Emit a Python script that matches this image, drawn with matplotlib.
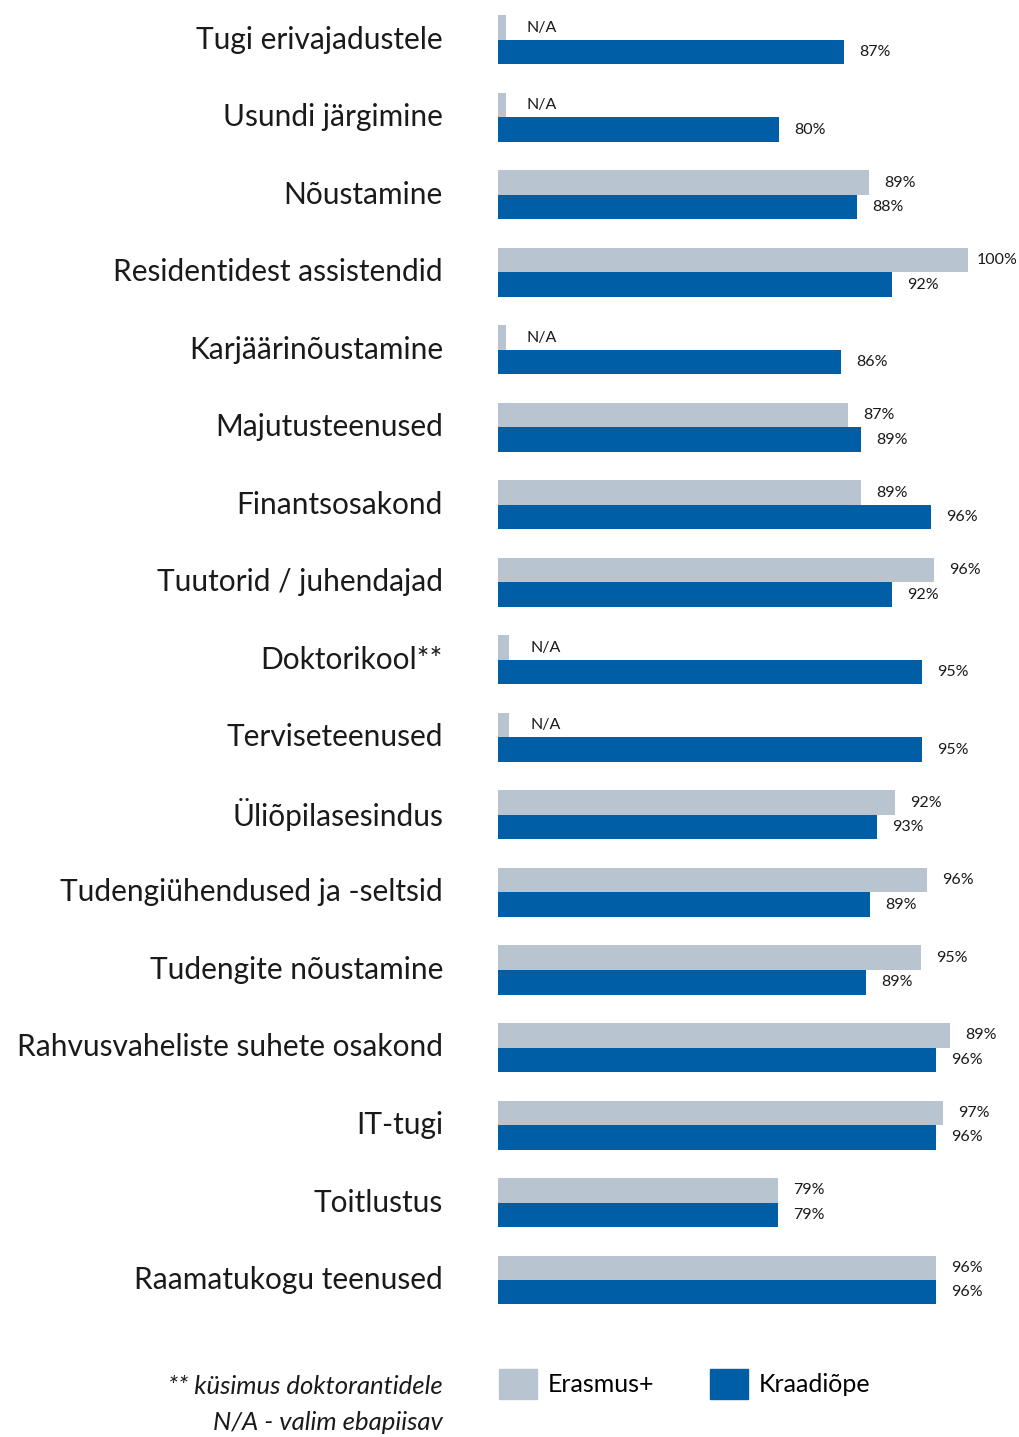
import matplotlib
matplotlib.use('Agg')
import matplotlib.pyplot as plt
import matplotlib.transforms as mtransforms
from matplotlib.patches import Patch
import numpy as np

plt.rcParams['font.family'] = ['Lato', 'DejaVu Sans']

categories = [
    "Tugi erivajadustele", "Usundi järgimine", "Nõustamine",
    "Residentidest assistendid", "Karjäärinõustamine", "Majutusteenused",
    "Finantsosakond", "Tuutorid / juhendajad", "Doktorikool**",
    "Terviseteenused", "Üliõpilasesindus", "Tudengiühendused ja -seltsid",
    "Tudengite nõustamine", "Rahvusvaheliste suhete osakond", "IT-tugi",
    "Toitlustus", "Raamatukogu teenused",
]

# printed values
erasmus_labels = ['N/A', 'N/A', '89%', '100%', 'N/A', '87%', '89%', '96%', 'N/A',
                  'N/A', '92%', '96%', '95%', '89%', '97%', '79%', '96%']
kraadi_labels = ['87%', '80%', '88%', '92%', '86%', '89%', '96%', '92%', '95%',
                 '95%', '93%', '89%', '89%', '96%', '96%', '79%', '96%']

# bar lengths as drawn in the picture (axis starts at 50)
erasmus_bar = [50.85, 50.85, 89.5, 100.0, 50.85, 87.2, 88.6, 96.4, 51.2,
               51.2, 92.2, 95.6, 95.0, 98.1, 97.3, 79.8, 96.6]
kraadi_bar = [86.8, 79.9, 88.2, 91.9, 86.5, 88.6, 96.1, 91.9, 95.1,
              95.1, 90.3, 89.6, 89.1, 96.6, 96.6, 79.8, 96.6]

GRAY = '#b8c4cf'
BLUE = '#005ea6'

W, H = 1019, 1437
fig = plt.figure(figsize=(W / 100, H / 100), dpi=100)
ax = fig.add_axes([498 / W, 1 - 1318.75 / H, 521 / W, 1317.5 / H])

y = np.arange(len(categories))
bh = 24.5 / 77.5
ax.barh(y - bh / 2, np.array(erasmus_bar) - 50, left=50, height=bh, color=GRAY)
ax.barh(y + bh / 2, np.array(kraadi_bar) - 50, left=50, height=bh, color=BLUE)


def offset(label, val):
    if label == 'N/A':
        return 15
    if val >= 99.5:
        return 6
    return 11


for i in range(len(categories)):
    ax.annotate(erasmus_labels[i], (erasmus_bar[i], i - bh / 2),
                xytext=(offset(erasmus_labels[i], erasmus_bar[i]), 0),
                textcoords='offset points', va='center', ha='left', fontsize=11.5, color='#1a1a1a')
    ax.annotate(kraadi_labels[i], (kraadi_bar[i], i + bh / 2),
                xytext=(offset(kraadi_labels[i], kraadi_bar[i]), 0),
                textcoords='offset points', va='center', ha='left', fontsize=11.5, color='#1a1a1a')

ax.set_xlim(50, 50 + 521 / 9.4)
ax.set_ylim(len(categories) - 0.5, -0.5)
ax.set_yticks(y)
ax.set_yticklabels(categories, fontsize=21.5, color='#1a1a1a')
ax.tick_params(axis='y', length=0, pad=39.6)
ax.set_xticks([])
for s in ax.spines.values():
    s.set_visible(False)

# nudge category labels up a little
shift = mtransforms.ScaledTranslation(0, 2.5 / 100, fig.dpi_scale_trans)
for lab in ax.get_yticklabels():
    lab.set_transform(lab.get_transform() + shift)

fig.legend(handles=[Patch(color=GRAY), Patch(color=BLUE)],
           labels=['Erasmus+', 'Kraadiõpe'], ncol=2, frameon=False,
           loc='center left', bbox_to_anchor=(499 / W, 1 - 1384 / H),
           fontsize=18, handlelength=1.52, handleheight=1.52,
           handletextpad=0.45, columnspacing=2.2, borderpad=0, borderaxespad=0)

fig.text(443 / W, 1 - 1386 / H, '** küsimus doktorantidele', ha='right', va='center',
         style='italic', fontsize=18.5, color='#1a1a1a')
fig.text(443 / W, 1 - 1422 / H, 'N/A - valim ebapiisav', ha='right', va='center',
         style='italic', fontsize=18.5, color='#1a1a1a')

fig.savefig('out.png', dpi=100)
